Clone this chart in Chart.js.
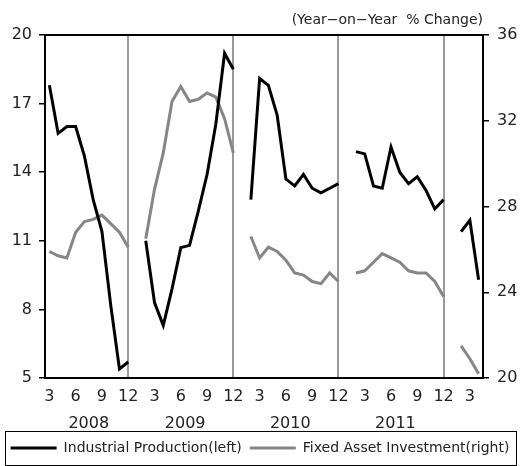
<!DOCTYPE html>
<html><head><meta charset="utf-8">
<script src="https://cdn.jsdelivr.net/npm/chart.js@4.4.1/dist/chart.umd.min.js"></script>
<style>html,body{margin:0;padding:0;background:#fff;}</style>
</head><body>
<canvas id="c" width="520" height="466"></canvas>
<script>
const categories = [
  '2008-03','2008-04','2008-05','2008-06','2008-07','2008-08','2008-09','2008-10','2008-11','2008-12',
  '2009-01','2009-02','2009-03','2009-04','2009-05','2009-06','2009-07','2009-08','2009-09','2009-10','2009-11','2009-12',
  '2010-01','2010-02','2010-03','2010-04','2010-05','2010-06','2010-07','2010-08','2010-09','2010-10','2010-11','2010-12',
  '2011-01','2011-02','2011-03','2011-04','2011-05','2011-06','2011-07','2011-08','2011-09','2011-10','2011-11','2011-12',
  '2012-01','2012-02','2012-03','2012-04'
];
const industrialProduction = [
  17.8,15.7,16.0,16.0,14.7,12.8,11.4,8.2,5.4,5.7,
  null,11.0,8.3,7.3,8.9,10.7,10.8,12.3,13.9,16.1,19.2,18.5,
  null,12.8,18.1,17.8,16.5,13.7,13.4,13.9,13.3,13.1,13.3,13.5,
  null,14.9,14.8,13.4,13.3,15.1,14.0,13.5,13.8,13.2,12.4,12.8,
  null,11.4,11.9,9.3
];
const fixedAssetInvestment = [
  25.9,25.7,25.6,26.8,27.3,27.4,27.6,27.2,26.8,26.1,
  null,26.5,28.8,30.5,32.9,33.6,32.9,33.0,33.3,33.1,32.1,30.5,
  null,26.6,25.6,26.1,25.9,25.5,24.9,24.8,24.5,24.4,24.9,24.5,
  null,24.9,25.0,25.4,25.8,25.6,25.4,25.0,24.9,24.9,24.5,23.8,
  null,21.5,20.9,20.2
];
const monthTickLabels = ['3','6','9','12'];
const yearLabels = ['2008','2009','2010','2011'];
const seriesNames = ['Industrial Production(left)','Fixed Asset Investment(right)'];
const titleText = '(Year\u2212on\u2212Year  % Change)';

// centre of each labelled year along the category axis
const yearCenters = yearLabels.map(y => {
  const idx = categories.map((c, i) => c.startsWith(y) ? i : -1).filter(i => i >= 0);
  return (idx[0] + idx[idx.length - 1] + 1) / 2;
});

Chart.defaults.font.family = "'DejaVu Sans', sans-serif";
Chart.defaults.color = '#222';

const framePlugin = {
  id: 'frame',
  afterDraw(chart) {
    const {ctx, chartArea: a, legend} = chart;
    ctx.save();
    ctx.strokeStyle = '#000';
    ctx.lineWidth = 2;
    ctx.beginPath();
    ctx.moveTo(a.left - 1, a.top);
    ctx.lineTo(a.right + 1, a.top);
    ctx.stroke();
    ctx.lineWidth = 1;
    ctx.strokeRect(legend.left + 5.5, legend.top - 1.5, legend.width - 9, legend.height + 2);
    ctx.restore();
  }
};

new Chart(document.getElementById('c'), {
  type: 'line',
  data: {
    labels: categories,
    datasets: [
      {label: seriesNames[0], data: industrialProduction, borderColor: '#000', backgroundColor: '#000',
       borderWidth: 3, pointRadius: 0, tension: 0, spanGaps: false, yAxisID: 'y', xAxisID: 'x'},
      {label: seriesNames[1], data: fixedAssetInvestment, borderColor: '#868686', backgroundColor: '#868686',
       borderWidth: 3, pointRadius: 0, tension: 0, spanGaps: false, yAxisID: 'y1', xAxisID: 'x'}
    ]
  },
  options: {
    responsive: false,
    animation: false,
    devicePixelRatio: 1,
    layout: {padding: {left: 0, right: 0, top: 0, bottom: 1}},
    plugins: {
      title: {display: true, text: titleText, align: 'end', fullSize: false, position: 'top',
              padding: {top: 11.6, bottom: 6.6}, font: {size: 14, weight: 'normal'}, color: '#222'},
      legend: {display: true, position: 'bottom',
               labels: {usePointStyle: true, pointStyle: 'line', pointStyleWidth: 46, boxHeight: 14,
                        padding: 8, font: {size: 14}, color: '#222'}},
      tooltip: {enabled: false}
    },
    scales: {
      x: {
        type: 'category', position: 'bottom', offset: true,
        afterFit: s => { s.height = 24; },
        grid: {drawTicks: false, lineWidth: 2,
               color: ctx => (categories[ctx.index] && categories[ctx.index].endsWith('-12')) ? '#9a9a9a' : 'rgba(0,0,0,0)'},
        border: {display: true, color: '#000', width: 2},
        ticks: {autoSkip: false, maxRotation: 0, padding: 9.4, font: {size: 16}, color: '#222',
                callback: (v, i) => {
                  const m = String(parseInt(categories[i].split('-')[1], 10));
                  return monthTickLabels.includes(m) ? m : '';
                }}
      },
      xYear: {
        type: 'linear', position: 'bottom', min: 0, max: categories.length,
        afterBuildTicks: s => { s.ticks = yearCenters.map(v => ({value: v})); },
        afterFit: s => { s.height = 31; },
        grid: {display: false, drawTicks: false},
        border: {display: false},
        ticks: {autoSkip: false, maxRotation: 0, padding: 12.4, font: {size: 16}, color: '#222',
                callback: v => { const k = yearCenters.indexOf(v); return k >= 0 ? yearLabels[k] : ''; }}
      },
      y: {
        type: 'linear', position: 'left', min: 5, max: 20,
        afterFit: s => { s.width = 45; },
        grid: {drawOnChartArea: false, drawTicks: true, tickLength: 6, color: '#000', lineWidth: 1.5},
        border: {display: true, color: '#000', width: 2},
        ticks: {stepSize: 3, padding: 7, font: {size: 16}, color: '#222'}
      },
      y1: {
        type: 'linear', position: 'right', min: 20, max: 36,
        afterFit: s => { s.width = 37; },
        grid: {drawOnChartArea: false, drawTicks: true, tickLength: 6, color: '#000', lineWidth: 1.5},
        border: {display: true, color: '#000', width: 2},
        ticks: {stepSize: 4, padding: 8, font: {size: 16}, color: '#222'}
      }
    }
  },
  plugins: [framePlugin]
});
</script>
</body></html>
